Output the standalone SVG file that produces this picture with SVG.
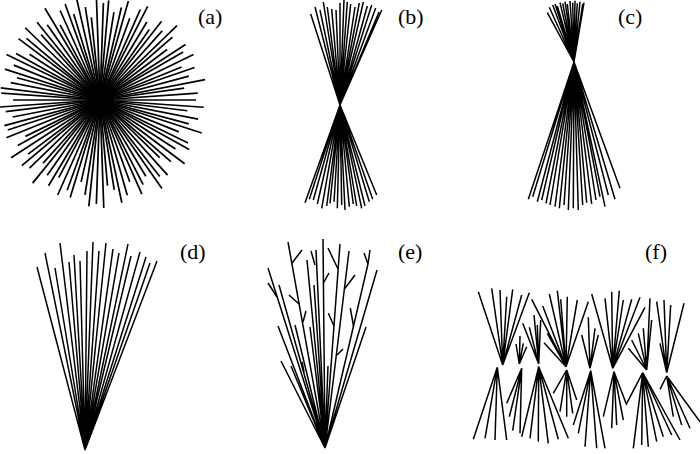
<svg xmlns="http://www.w3.org/2000/svg" width="700" height="454" viewBox="0 0 700 454">
<style>
.ln{stroke:#000;stroke-width:1.5;fill:none;stroke-linecap:butt}
.lbl{font-family:"Liberation Serif","Times New Roman",serif;font-size:22px;fill:#000}
</style>
<rect width="700" height="454" fill="#fff"/>
<g id="panel-a">
<g class="ln" transform="translate(100,100)" style="stroke-width:1.7">
<path d="M0 0H96" transform="rotate(0)"/><path d="M0 0H104" transform="rotate(4)"/><path d="M0 0H88" transform="rotate(7)"/><path d="M0 0H100" transform="rotate(11)"/><path d="M0 0H92" transform="rotate(15)"/><path d="M0 0H107" transform="rotate(18)"/><path d="M0 0H85" transform="rotate(22)"/><path d="M0 0H98" transform="rotate(26)"/><path d="M0 0H102" transform="rotate(29)"/><path d="M0 0H90" transform="rotate(33)"/><path d="M0 0H106" transform="rotate(37)"/><path d="M0 0H94" transform="rotate(41)"/><path d="M0 0H83" transform="rotate(44)"/><path d="M0 0H101" transform="rotate(48)"/><path d="M0 0H97" transform="rotate(52)"/><path d="M0 0H108" transform="rotate(55)"/><path d="M0 0H89" transform="rotate(59)"/><path d="M0 0H95" transform="rotate(63)"/><path d="M0 0H103" transform="rotate(66)"/><path d="M0 0H87" transform="rotate(70)"/><path d="M0 0H99" transform="rotate(74)"/><path d="M0 0H105" transform="rotate(78)"/><path d="M0 0H91" transform="rotate(81)"/><path d="M0 0H86" transform="rotate(85)"/><path d="M0 0H108" transform="rotate(88)"/><path d="M0 0H104" transform="rotate(92)"/><path d="M0 0H107" transform="rotate(96)"/><path d="M0 0H96" transform="rotate(99)"/><path d="M0 0H84" transform="rotate(103)"/><path d="M0 0H102" transform="rotate(107)"/><path d="M0 0H96" transform="rotate(110)"/><path d="M0 0H104" transform="rotate(114)"/><path d="M0 0H88" transform="rotate(118)"/><path d="M0 0H100" transform="rotate(121)"/><path d="M0 0H92" transform="rotate(125)"/><path d="M0 0H107" transform="rotate(129)"/><path d="M0 0H85" transform="rotate(132)"/><path d="M0 0H98" transform="rotate(136)"/><path d="M0 0H102" transform="rotate(140)"/><path d="M0 0H90" transform="rotate(143)"/><path d="M0 0H106" transform="rotate(147)"/><path d="M0 0H94" transform="rotate(151)"/><path d="M0 0H83" transform="rotate(154)"/><path d="M0 0H101" transform="rotate(158)"/><path d="M0 0H97" transform="rotate(162)"/><path d="M0 0H99" transform="rotate(165)"/><path d="M0 0H89" transform="rotate(169)"/><path d="M0 0H95" transform="rotate(173)"/><path d="M0 0H101" transform="rotate(176)"/><path d="M0 0H87" transform="rotate(180)"/><path d="M0 0H99" transform="rotate(184)"/><path d="M0 0H100" transform="rotate(187)"/><path d="M0 0H91" transform="rotate(191)"/><path d="M0 0H86" transform="rotate(195)"/><path d="M0 0H100" transform="rotate(198)"/><path d="M0 0H93" transform="rotate(202)"/><path d="M0 0H104" transform="rotate(206)"/><path d="M0 0H96" transform="rotate(209)"/><path d="M0 0H84" transform="rotate(213)"/><path d="M0 0H102" transform="rotate(217)"/><path d="M0 0H96" transform="rotate(220)"/><path d="M0 0H104" transform="rotate(224)"/><path d="M0 0H88" transform="rotate(228)"/><path d="M0 0H100" transform="rotate(231)"/><path d="M0 0H92" transform="rotate(235)"/><path d="M0 0H107" transform="rotate(239)"/><path d="M0 0H85" transform="rotate(242)"/><path d="M0 0H98" transform="rotate(246)"/><path d="M0 0H102" transform="rotate(250)"/><path d="M0 0H90" transform="rotate(253)"/><path d="M0 0H106" transform="rotate(257)"/><path d="M0 0H94" transform="rotate(261)"/><path d="M0 0H83" transform="rotate(264)"/><path d="M0 0H101" transform="rotate(268)"/><path d="M0 0H97" transform="rotate(272)"/><path d="M0 0H100" transform="rotate(275)"/><path d="M0 0H89" transform="rotate(279)"/><path d="M0 0H95" transform="rotate(283)"/><path d="M0 0H103" transform="rotate(286)"/><path d="M0 0H87" transform="rotate(290)"/><path d="M0 0H99" transform="rotate(294)"/><path d="M0 0H105" transform="rotate(297)"/><path d="M0 0H91" transform="rotate(301)"/><path d="M0 0H86" transform="rotate(305)"/><path d="M0 0H100" transform="rotate(308)"/><path d="M0 0H93" transform="rotate(312)"/><path d="M0 0H107" transform="rotate(316)"/><path d="M0 0H96" transform="rotate(319)"/><path d="M0 0H84" transform="rotate(323)"/><path d="M0 0H102" transform="rotate(327)"/><path d="M0 0H96" transform="rotate(330)"/><path d="M0 0H104" transform="rotate(334)"/><path d="M0 0H88" transform="rotate(338)"/><path d="M0 0H100" transform="rotate(341)"/><path d="M0 0H92" transform="rotate(345)"/><path d="M0 0H107" transform="rotate(349)"/><path d="M0 0H85" transform="rotate(352)"/><path d="M0 0H98" transform="rotate(356)"/>
</g>
<text class="lbl" x="198" y="24">(a)</text>
</g>
<g id="panel-b">
<path class="ln" d="M340 105L310.7 14M340 105L315 7M340 105L320 10M340 105L323.3 2M340 105L327.3 7M340 105L331.7 9M340 105L336 10M340 105L340 3M340 105L344 0M340 105L347.3 2M340 105L350.7 4M340 105L355 7M340 105L359.3 3M340 105L363.3 2M340 105L367.3 6M340 105L371.7 5M340 105L375.7 8M340 105L379 12M340 105L381.7 10"/>
<path class="ln" d="M340 105L305 202.7M340 105L309.3 199.3M340 105L313.3 200M340 105L317.3 204M340 105L321.7 208.3M340 105L326.7 206M340 105L330 203.3M340 105L334 201.7M340 105L337.3 208.3M340 105L341.7 205M340 105L345 210M340 105L349.3 206.7M340 105L353.3 204M340 105L356.7 206M340 105L361.7 208.3M340 105L365 206M340 105L369.3 201.7M340 105L372.7 199.3M340 105L376.7 195"/>
<text class="lbl" x="398" y="24">(b)</text>
</g>
<g id="panel-c">
<path class="ln" d="M574 62L547.3 12.7M574 62L549.3 7.3M574 62L552.7 5M574 62L555 4M574 62L557.3 6M574 62L560 2.7M574 62L562.7 3.3M574 62L565 1.7M574 62L567.3 4M574 62L570 1M574 62L572.7 2.7M574 62L575 0.7M574 62L577.3 3.3M574 62L580 1.7M574 62L582.7 4M574 62L584 2.7"/>
<path class="ln" d="M574 62L528.3 199.3M574 62L532.7 196.7M574 62L537.3 201.7M574 62L541.7 200M574 62L546 203.3M574 62L550 205M574 62L555 206.7M574 62L559.3 208.3M574 62L564 205M574 62L568.3 210M574 62L573.3 208.3M574 62L578.3 210M574 62L582.7 205M574 62L586.7 202.7M574 62L591.7 204M574 62L596 200M574 62L600 196.7M574 62L605 206.7M574 62L608.3 195M574 62L615 199.3M574 62L620 188.3"/>
<text class="lbl" x="618" y="24">(c)</text>
</g>
<g id="panel-d">
<path class="ln" d="M85 450L37 267M85 450L45 253M85 450L55 268M85 450L60 243M85 450L69 262M85 450L74 255M85 450L80 261M85 450L87 251M85 450L93 242M85 450L99 251M85 450L106 243M85 450L113 249M85 450L119 253M85 450L128 244M85 450L131 256M85 450L140 252M85 450L146 257M85 450L150 263M85 450L157 261"/>
<text class="lbl" x="180" y="259">(d)</text>
</g>
<g id="panel-e">
<path class="ln" d="M325 448L268 268M325 448L279 285M325 448L288 242M325 448L278 326M325 448L281 361M325 448L291 366M325 448L295 325M325 448L307 260M325 448L316 250M325 448L314 285M325 448L310 327M325 448L323 239M325 448L328 366M325 448L340 244M325 448L349 251M325 448L368 264M325 448L377 270M325 448L366 327"/>
<path class="ln" d="M277 297L268 283M292 263L302 250M299 304L289 295M323.4 283L329 273M338 269L328 248M344.3 289.3L355 275M368 264L364 253M368 264L370 250M353.5 326L350.3 308M337 355L343 349M334 326L328.3 313.3M315 265L311 251M304 372L302 362M303 322L306 311"/>
<text class="lbl" x="398" y="259">(e)</text>
</g>
<g id="panel-f">
<path class="ln" d="M502.7 365L478.3 291.7M502.7 365L491.7 288.3M502.7 365L500 290M502.7 365L506.7 296.7M502.7 365L512.7 289.3M502.7 365L521.7 295M502.7 365L529.3 292.7"/>
<path class="ln" d="M519.3 364L516 344M519.3 364L520 336M519.3 364L523.3 343.3M519.3 364L526.7 346.7"/>
<path class="ln" d="M538.7 364L522.7 323.3M538.7 364L529.3 327.3M538.7 364L534 315M538.7 364L537.3 325M538.7 364L540.7 320"/>
<path class="ln" d="M566 366.7L531.7 299.3M566 366.7L542.7 306M566 366.7L549.3 294M566 366.7L557.3 290.7M566 366.7L560.7 299.3M566 366.7L567.3 296.7M566 366.7L577.3 300M566 366.7L588.3 301.7M566 366.7L544 342.7M566 366.7L547.3 333.3"/>
<path class="ln" d="M590 368.3L581.7 335M590 368.3L588.3 317.3M590 368.3L595 328.3M590 368.3L598.3 335"/>
<path class="ln" d="M612.7 368.3L591.7 294M612.7 368.3L605 298.3M612.7 368.3L611.7 291.7M612.7 368.3L619.3 290.7M612.7 368.3L623.3 300M612.7 368.3L631.7 299.3M612.7 368.3L640 297.3M612.7 368.3L645 307.3"/>
<path class="ln" d="M646.7 370L628.3 348.3M646.7 370L631.7 340M646.7 370L638.3 333.3M646.7 370L643.3 328.3M646.7 370L650 298.3M646.7 370L651.7 320"/>
<path class="ln" d="M666.7 372.7L656.7 301.7M666.7 372.7L664 300M666.7 372.7L670.7 305M666.7 372.7L684 303.3M666.7 372.7L660 343.3"/>
<path class="ln" d="M497.3 367.3L473.3 439.3M497.3 367.3L485 438.3M497.3 367.3L495 440M497.3 367.3L506.7 440"/>
<path class="ln" d="M521.7 368.3L506.7 403.3M521.7 368.3L509.3 416.7M521.7 368.3L512.7 430.7M521.7 368.3L520 433.3"/>
<path class="ln" d="M538.7 366.7L521.7 436.7M538.7 366.7L530 438.3M538.7 366.7L538.3 441.7M538.7 366.7L548.3 443.3M538.7 366.7L558.3 439.3M538.7 366.7L568.3 438.3"/>
<path class="ln" d="M566.7 370L553.3 393.3M566.7 370L560 411.7M566.7 370L566.7 416.7M566.7 370L572.7 413.3M566.7 370L576.7 400"/>
<path class="ln" d="M590.7 370.7L573.3 425M590.7 370.7L578.3 433.3M590.7 370.7L585 446.7M590.7 370.7L596.7 448.3M590.7 370.7L605 448.3"/>
<path class="ln" d="M614 371.7L603.3 416.7M614 371.7L611.7 428.3M614 371.7L616.7 425M614 371.7L623.3 420M614 371.7L626.7 405"/>
<path class="ln" d="M642.7 372.7L626.7 403.3M642.7 372.7L633.3 448.3M642.7 372.7L641.7 445M642.7 372.7L648.3 446.7M642.7 372.7L656.7 441.7M642.7 372.7L663.3 436.7M642.7 372.7L671.7 435M642.7 372.7L680 440"/>
<path class="ln" d="M666.7 376L660 389.3M666.7 376L673.3 416.7M666.7 376L681.7 425M666.7 376L690 428.3M666.7 376L700 421.7"/>
<text class="lbl" x="645" y="259">(f)</text>
</g>
</svg>
